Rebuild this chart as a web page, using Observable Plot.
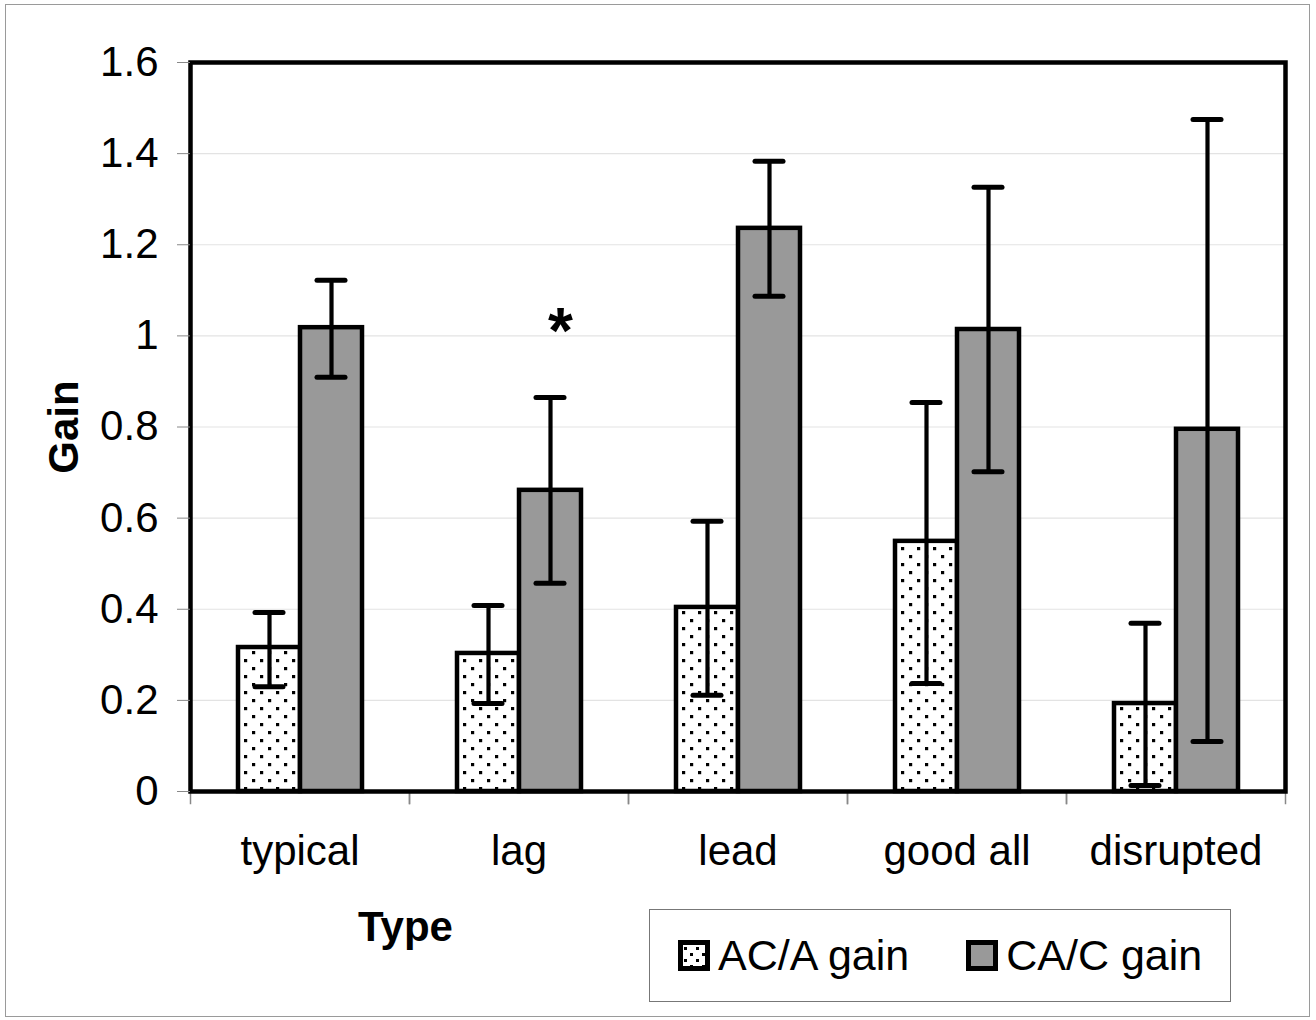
<!DOCTYPE html>
<html><head><meta charset="utf-8">
<script src="https://cdn.jsdelivr.net/npm/d3@7"></script>
<script src="https://cdn.jsdelivr.net/npm/@observablehq/plot@0.6"></script>
<style>
body{margin:0;background:#fff;font-family:"Liberation Sans",Arial,sans-serif;}
#wrap{position:relative;width:1316px;height:1020px;overflow:hidden;}
#chart{position:absolute;left:-1px;top:0;}
#border{position:absolute;left:5px;top:4px;width:1303px;height:1011px;border:1.5px solid #9a9a9a;pointer-events:none;}
#typeLabel{position:absolute;left:358px;top:903px;font-weight:bold;font-size:42px;line-height:48px;}
#legend{position:absolute;left:649px;top:909px;width:552px;height:91px;border:1.5px solid #777;display:flex;align-items:center;font-size:43px;padding-left:28px;box-sizing:content-box;}
#legend .item{display:flex;align-items:center;}
#legend .sw{width:32px;height:31px;box-sizing:border-box;border:5px solid #000;margin-right:8px;}
#legend svg{display:block;}
svg g[aria-label="y-axis label"] text{font-weight:bold;}
</style></head><body>
<div id="wrap"><div id="chart"></div><div id="border"></div><div id="typeLabel">Type</div><div id="legend"></div></div>
<script>
// ---- data ----
const categories = ["typical", "lag", "lead", "good all", "disrupted"];
const seriesNames = ["AC/A gain", "CA/C gain"];
const acaMean = [0.316, 0.303, 0.404, 0.549, 0.193];
const acaLow  = [0.230, 0.193, 0.211, 0.237, 0.013];
const acaHigh = [0.393, 0.408, 0.593, 0.854, 0.369];
const cacMean = [1.018, 0.661, 1.236, 1.014, 0.795];
const cacLow  = [0.909, 0.457, 1.087, 0.702, 0.110];
const cacHigh = [1.122, 0.865, 1.383, 1.326, 1.475];
const yTicks = [0, 0.2, 0.4, 0.6, 0.8, 1, 1.2, 1.4, 1.6];
const marks_ = [{type: "lag", series: "CA/C gain", y: 1.03, label: "*"}];

const data = categories.flatMap((c, i) => [
  {type: c, series: seriesNames[0], value: acaMean[i], lo: acaLow[i], hi: acaHigh[i]},
  {type: c, series: seriesNames[1], value: cacMean[i], lo: cacLow[i], hi: cacHigh[i]}
]);
const aca = data.filter(d => d.series === seriesNames[0]);
const cac = data.filter(d => d.series === seriesNames[1]);

const chart = Plot.plot({
  width: 1316, height: 900,
  marginTop: 62, marginLeft: 189, marginRight: 29, marginBottom: 109,
  style: {fontFamily: "'Liberation Sans', Arial, sans-serif", fontSize: "42px", background: "transparent", color: "black", overflow: "visible"},
  fx: {domain: categories, padding: 0, label: null},
  x: {domain: seriesNames, paddingInner: 0, paddingOuter: 0.746, axis: null},
  y: {domain: [0, 1.6]},
  marks: [
    Plot.gridY(yTicks, {stroke: "#e3e3e3", strokeOpacity: 1, strokeWidth: 1.2}),
    Plot.barY(aca, {fx: "type", x: "series", y: "value", fill: "url(#dots)", stroke: "black", strokeWidth: 4.5}),
    Plot.barY(cac, {fx: "type", x: "series", y: "value", fill: "#999999", stroke: "black", strokeWidth: 4.5}),
    Plot.ruleX(data, {fx: "type", x: "series", y1: "lo", y2: "hi", stroke: "black", strokeWidth: 4.2}),
    Plot.tickY(data, {fx: "type", x: "series", y: "lo", stroke: "black", strokeWidth: 5, strokeLinecap: "round", insetLeft: 17, insetRight: 17}),
    Plot.tickY(data, {fx: "type", x: "series", y: "hi", stroke: "black", strokeWidth: 5, strokeLinecap: "round", insetLeft: 17, insetRight: 17}),
    Plot.text(marks_, {fx: "type", x: "series", y: "y", text: "label", fontSize: 64, fontWeight: "bold", dx: 10, lineAnchor: "middle", dy: 10}),
    Plot.frame({anchor: "left", insetTop: 729, insetBottom: -12, stroke: "#888", strokeWidth: 1.5}),
    Plot.frame({anchor: "right", insetTop: 729, insetBottom: -12, stroke: "#888", strokeWidth: 1.5}),
    Plot.frame({facet: "super", stroke: "black", strokeWidth: 4.5}),
    Plot.axisY(yTicks, {anchor: "left", tickSize: 13, tickPadding: 19, stroke: "#888", fill: "black", tickFormat: d => String(d),
      label: "Gain", labelAnchor: "center", labelOffset: 142, labelArrow: "none"}),
    Plot.axisFx({anchor: "bottom", tickSize: 0, tickPadding: 44, label: null})
  ]
});

// dotted pattern for AC/A bars
function addPattern(svg, id) {
  const ns = "http://www.w3.org/2000/svg";
  const defs = document.createElementNS(ns, "defs");
  const pat = document.createElementNS(ns, "pattern");
  pat.setAttribute("id", id);
  pat.setAttribute("patternUnits", "userSpaceOnUse");
  pat.setAttribute("width", 16);
  pat.setAttribute("height", 16);
  const bg = document.createElementNS(ns, "rect");
  bg.setAttribute("width", 16); bg.setAttribute("height", 16); bg.setAttribute("fill", "white");
  pat.appendChild(bg);
  for (const [px, py] of [[3, 3], [11, 11]]) {
    const r = document.createElementNS(ns, "rect");
    r.setAttribute("x", px); r.setAttribute("y", py);
    r.setAttribute("width", 3.2); r.setAttribute("height", 3.2); r.setAttribute("fill", "black");
    pat.appendChild(r);
  }
  defs.appendChild(pat);
  svg.insertBefore(defs, svg.firstChild);
}
addPattern(chart, "dots");
document.getElementById("chart").appendChild(chart);

// legend
const legend = document.getElementById("legend");
seriesNames.forEach((name, i) => {
  const item = document.createElement("div");
  item.className = "item";
  if (i > 0) item.style.marginLeft = "57px";
  const sw = document.createElement("div");
  sw.className = "sw";
  if (i === 0) {
    sw.innerHTML = '<svg width="22" height="21"><defs><pattern id="dots2" patternUnits="userSpaceOnUse" width="12" height="12"><rect width="12" height="12" fill="white"/><rect x="1" y="2" width="3" height="3" fill="black"/><rect x="7" y="8" width="3" height="3" fill="black"/></pattern></defs><rect width="22" height="21" fill="url(#dots2)"/></svg>';
  } else {
    sw.style.background = "#999999";
  }
  const t = document.createElement("span");
  t.textContent = name;
  item.appendChild(sw);
  item.appendChild(t);
  legend.appendChild(item);
});
</script>
</body></html>
